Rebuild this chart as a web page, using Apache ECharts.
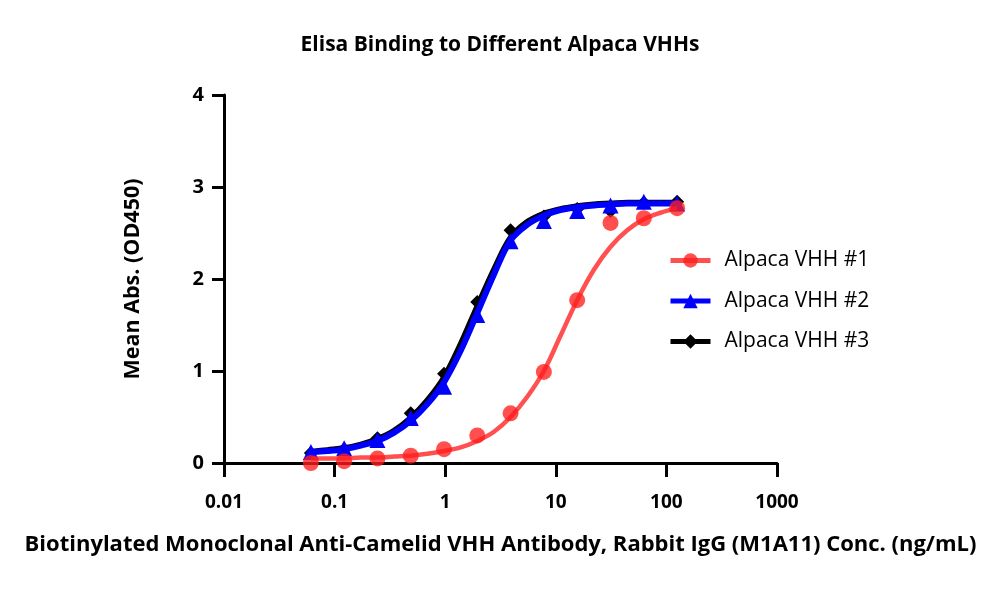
<!DOCTYPE html>
<html>
<head>
<meta charset="utf-8">
<title>Elisa Binding to Different Alpaca VHHs</title>
<script src="https://cdn.jsdelivr.net/npm/echarts@6/dist/echarts.min.js"></script>
<style>
  html, body { margin: 0; padding: 0; background: #fff; }
  #chart { width: 1000px; height: 614px; }
</style>
</head>
<body>
<div id="chart"></div>
<script>
// measured points (conc. ng/mL -> OD450)
var conc = [0.061, 0.122, 0.244, 0.488, 0.977, 1.95, 3.9, 7.8, 15.6, 31.25, 62.5, 125];
var vhh1 = [0.00, 0.02, 0.05, 0.08, 0.15, 0.30, 0.54, 0.99, 1.77, 2.61, 2.66, 2.77];
var vhh2 = [0.12, 0.16, 0.25, 0.49, 0.83, 1.61, 2.41, 2.63, 2.74, 2.80, 2.84, 2.82];
var vhh3 = [0.11, 0.15, 0.27, 0.54, 0.97, 1.75, 2.53, 2.68, 2.76, 2.74, 2.83, 2.84];

// fitted curves at half-dilution steps
var curveConc = [0.061, 0.086, 0.122, 0.173, 0.244, 0.345, 0.488, 0.69, 0.977, 1.38, 1.95, 2.76,
                 3.9, 5.52, 7.8, 11.0, 15.6, 22.1, 31.25, 44.2, 62.5, 88.4, 125];
var fit1 = [0.05, 0.05, 0.05, 0.06, 0.06, 0.07, 0.08, 0.10, 0.13, 0.17, 0.24, 0.34,
            0.50, 0.72, 1.00, 1.38, 1.77, 2.10, 2.35, 2.53, 2.65, 2.72, 2.77];
var fit2 = [0.12, 0.13, 0.15, 0.19, 0.24, 0.33, 0.46, 0.64, 0.88, 1.22, 1.63, 2.05,
            2.42, 2.59, 2.69, 2.75, 2.78, 2.80, 2.81, 2.82, 2.82, 2.82, 2.82];
var fit3 = [0.12, 0.14, 0.16, 0.20, 0.26, 0.35, 0.49, 0.68, 0.93, 1.29, 1.70, 2.10,
            2.45, 2.62, 2.71, 2.76, 2.79, 2.81, 2.82, 2.83, 2.83, 2.83, 2.83];

var xTicks = ['0.01', '0.1', '1', '10', '100', '1000'];
var names = ['Alpaca VHH #1', 'Alpaca VHH #2', 'Alpaca VHH #3'];

function pairs(xs, ys) {
    var out = [];
    for (var i = 0; i < xs.length; i++) {
        out.push([xs[i], ys[i]]);
    }
    return out;
}

var font = '"Open Sans", "Noto Sans", sans-serif';
var red = 'rgba(255,30,30,0.78)';

var myChart = echarts.init(document.getElementById('chart'));

// marker series listed first so the legend picks their symbols;
// z keeps black under blue and red on top
var option = {
    backgroundColor: '#fff',
    animation: false,
    title: {
        text: 'Elisa Binding to Different Alpaca VHHs',
        left: 'center',
        top: 30,
        textStyle: { fontFamily: font, fontSize: 21, fontWeight: 'bold', color: '#000' }
    },
    legend: {
        data: names,
        orient: 'vertical',
        left: 663,
        top: 245,
        itemWidth: 40,
        itemHeight: 18,
        itemGap: 19.5,
        lineStyle: { opacity: 1, width: 5 },
        textStyle: { fontFamily: font, fontSize: 21, lineHeight: 20, color: '#000', padding: [0, 0, 0, 9] }
    },
    grid: {
        left: 224,
        right: 223,
        top: 95,
        bottom: 151
    },
    xAxis: {
        type: 'log',
        logBase: 10,
        min: 0.01,
        max: 1000,
        name: 'Biotinylated Monoclonal Anti-Camelid VHH Antibody, Rabbit IgG (M1A11) Conc. (ng/mL)',
        nameLocation: 'middle',
        nameGap: 71,
        nameTextStyle: { fontFamily: font, fontSize: 22, fontWeight: 'bold', color: '#000' },
        axisLine: { lineStyle: { color: '#000', width: 3 } },
        axisTick: { show: true, length: 14, lineStyle: { color: '#000', width: 3 } },
        minorTick: { show: false },
        splitLine: { show: false },
        axisLabel: {
            margin: 30,
            fontFamily: font,
            fontSize: 19,
            fontWeight: 'bold',
            color: '#000',
            formatter: function (v) {
                var k = Math.round(Math.log10(v)) + 2;
                return xTicks[k] !== undefined ? xTicks[k] : '';
            }
        }
    },
    yAxis: {
        type: 'value',
        min: 0,
        max: 4,
        interval: 1,
        name: 'Mean Abs. (OD450)',
        nameLocation: 'middle',
        nameGap: 80,
        nameTextStyle: { fontFamily: font, fontSize: 21.5, fontWeight: 'bold', color: '#000' },
        axisLine: { show: true, lineStyle: { color: '#000', width: 3 } },
        axisTick: { show: true, length: 12, lineStyle: { color: '#000', width: 3 } },
        splitLine: { show: false },
        axisLabel: {
            margin: 20,
            fontFamily: font,
            fontSize: 20,
            fontWeight: 'bold',
            color: '#000'
        }
    },
    series: [
        {
            name: names[0],
            type: 'line',
            data: pairs(conc, vhh1),
            symbol: 'circle',
            symbolSize: 16,
            itemStyle: { color: red },
            lineStyle: { color: red, width: 5, opacity: 0 },
            z: 7
        },
        {
            name: names[1],
            type: 'line',
            data: pairs(conc, vhh2),
            symbol: 'triangle',
            symbolSize: 16,
            itemStyle: { color: '#0000ff' },
            lineStyle: { color: '#0000ff', width: 5, opacity: 0 },
            z: 5
        },
        {
            name: names[2],
            type: 'line',
            data: pairs(conc, vhh3),
            symbol: 'diamond',
            symbolSize: 14,
            itemStyle: { color: '#000' },
            lineStyle: { color: '#000', width: 5, opacity: 0 },
            z: 3
        },
        {
            name: names[2],
            type: 'line',
            data: pairs(curveConc, fit3),
            smooth: 0.35,
            showSymbol: false,
            symbol: 'none',
            lineStyle: { color: '#000', width: 6 },
            itemStyle: { color: '#000' },
            z: 2
        },
        {
            name: names[1],
            type: 'line',
            data: pairs(curveConc, fit2),
            smooth: 0.35,
            showSymbol: false,
            symbol: 'none',
            lineStyle: { color: '#0000ff', width: 6 },
            itemStyle: { color: '#0000ff' },
            z: 4
        },
        {
            name: names[0],
            type: 'line',
            data: pairs(curveConc, fit1),
            smooth: 0.35,
            showSymbol: false,
            symbol: 'none',
            lineStyle: { color: red, width: 4.5 },
            itemStyle: { color: red },
            z: 6
        }
    ]
};

myChart.setOption(option);
</script>
</body>
</html>
